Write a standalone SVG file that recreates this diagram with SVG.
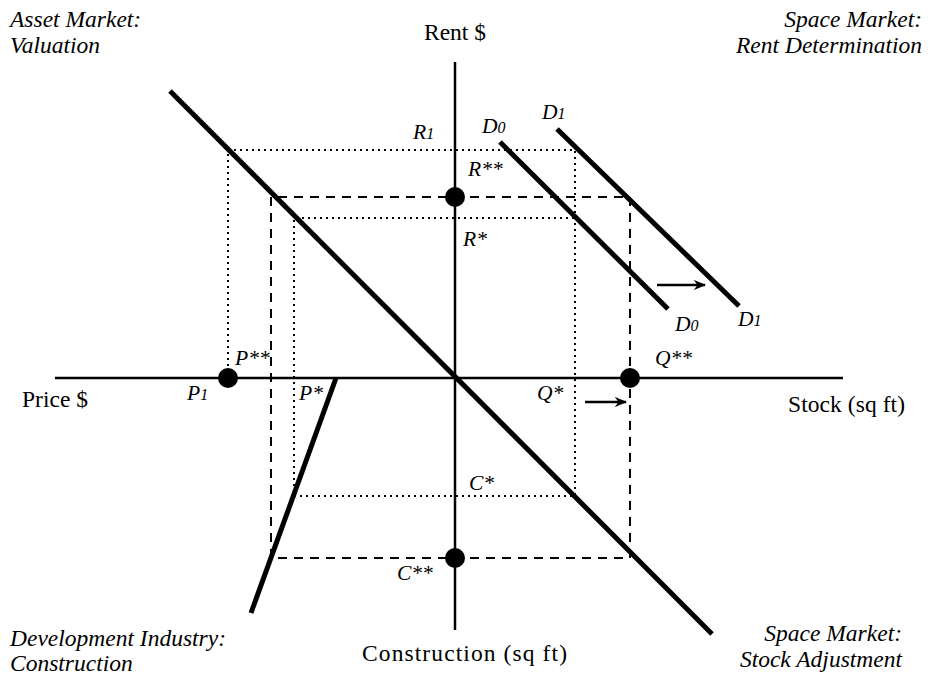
<svg xmlns="http://www.w3.org/2000/svg" width="931" height="675" viewBox="0 0 931 675">
<style>
text{font-family:"Liberation Serif","Times New Roman",serif;font-size:23.5px;fill:#000}
.i{font-style:italic}
.p{font-size:21.5px;font-style:italic}
.s{font-size:16px}
.ax{stroke:#000;stroke-width:2.5;fill:none}
.th{stroke:#000;stroke-width:5;fill:none}
.dot{stroke:#000;stroke-width:2;stroke-dasharray:2 4;fill:none}
.dash{stroke:#000;stroke-width:2;stroke-dasharray:9 7;fill:none}
.arr{stroke:#000;stroke-width:2.5;fill:none;marker-end:url(#ah)}
</style>
<defs>
<marker id="ah" viewBox="0 0 10 10" refX="9" refY="5" markerWidth="5" markerHeight="5" orient="auto" markerUnits="strokeWidth"><path d="M0,1 L10,5 L0,9 L3,5 z" fill="#000"/></marker>
</defs>
<rect width="931" height="675" fill="#fff"/>
<g id="connectors">
<line class="ax" x1="455" y1="62" x2="455" y2="630"/>
<line class="ax" x1="55" y1="378" x2="843" y2="378"/>
<path class="dot" d="M228,378 V150 H575 V496 H294 V218 H575"/>
<path class="dash" d="M271,558 V197 H630 V558 Z"/>
<line class="th" x1="170" y1="91" x2="712" y2="634"/>
<line class="th" x1="500" y1="142" x2="668" y2="309"/>
<line class="th" x1="557" y1="129" x2="739" y2="306"/>
<line class="th" x1="336" y1="378" x2="251" y2="613"/>
<line class="arr" x1="657" y1="285" x2="705" y2="285"/>
<line class="arr" x1="585" y1="402" x2="626" y2="402"/>
</g>
<g id="dots">
<circle cx="455" cy="197" r="10"/>
<circle cx="228" cy="378" r="10"/>
<circle cx="630" cy="378" r="10"/>
<circle cx="455" cy="558" r="10"/>
</g>
<g id="axis-labels">
<text x="424" y="40" textLength="62">Rent $</text>
<text x="22" y="407" textLength="66">Price $</text>
<text x="788" y="412" textLength="117">Stock (sq ft)</text>
<text x="362" y="661" textLength="205">Construction (sq ft)</text>
</g>
<g id="quadrant-labels">
<text class="i" x="10" y="27">Asset Market:</text>
<text class="i" x="10" y="53">Valuation</text>
<text class="i" x="922" y="27" text-anchor="end">Space Market:</text>
<text class="i" x="922" y="53" text-anchor="end">Rent Determination</text>
<text class="i" x="10" y="646">Development Industry:</text>
<text class="i" x="10" y="671">Construction</text>
<text class="i" x="902" y="641" text-anchor="end">Space Market:</text>
<text class="i" x="902" y="667" text-anchor="end">Stock Adjustment</text>
</g>
<g id="point-labels">
<text class="p" x="413" y="139">R<tspan class="s">1</tspan></text>
<text class="p" x="482" y="133">D<tspan class="s">0</tspan></text>
<text class="p" x="542" y="119">D<tspan class="s">1</tspan></text>
<text class="p" x="675" y="331">D<tspan class="s">0</tspan></text>
<text class="p" x="738" y="326">D<tspan class="s">1</tspan></text>
<text class="p" x="468" y="176">R**</text>
<text class="p" x="463" y="246">R*</text>
<text class="p" x="235" y="365">P**</text>
<text class="p" x="187" y="400">P<tspan class="s">1</tspan></text>
<text class="p" x="299" y="400">P*</text>
<text class="p" x="537" y="400">Q*</text>
<text class="p" x="655" y="365">Q**</text>
<text class="p" x="469" y="490">C*</text>
<text class="p" x="397" y="580">C**</text>
</g>
</svg>
